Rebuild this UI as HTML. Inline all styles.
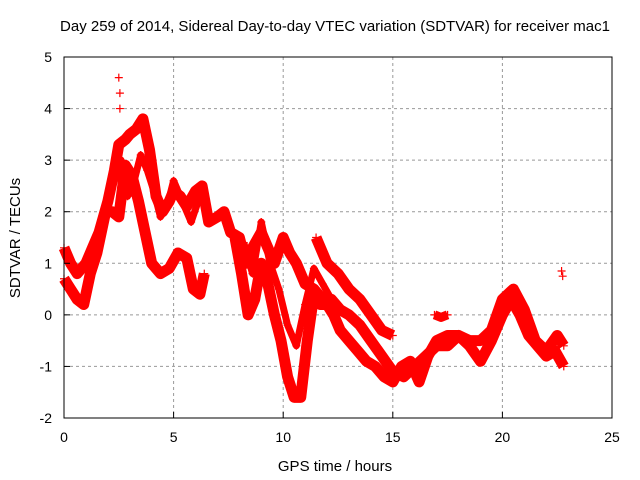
<!DOCTYPE html>
<html><head><meta charset="utf-8"><style>
body{margin:0;background:#fff}
svg{display:block;font-family:"Liberation Sans",Arial,sans-serif}
</style></head><body>
<svg id="chart" width="640" height="480" viewBox="0 0 640 480">
<text x="335" y="31" font-size="15" text-anchor="middle">Day 259 of 2014, Sidereal Day-to-day VTEC variation (SDTVAR) for receiver mac1</text>
<text x="335" y="471" font-size="15" text-anchor="middle">GPS time / hours</text>
<text transform="translate(20,238) rotate(-90)" font-size="15" text-anchor="middle">SDTVAR / TECUs</text>
<g id="grid"></g>
<g id="marks"></g>
<rect x="64" y="57" width="548" height="361" fill="none" stroke="#000" stroke-width="1"/>
<g id="ticks"></g>
</svg>
<script>
const xTicks=[0,5,10,15,20,25];
const yTicks=[-2,-1,0,1,2,3,4,5];
const tA=[0,0.3,0.6,1.0,1.3,1.6,2.0,2.3,2.5,2.8,3.0,3.3,3.6,3.9,4.2,4.5,4.8,5.0,5.3,5.6,6.0,6.3,6.6,7.0,7.3,7.6,8.0,8.3,8.6,9.0,9.3,9.6,10.0,10.3,10.6,11.0,11.4,11.8,12.2,12.6,13.0,13.5,14.0,14.5,15.0,15.5,16.0,16.5,17.0,17.5,18.0,18.5,19.0,19.5,20.0,20.5,21.0,21.5,22.0,22.5,22.8];
const vA=[1.3,1.0,0.8,1.0,1.3,1.6,2.2,2.8,3.3,3.4,3.5,3.6,3.8,3.2,2.3,2.0,2.2,2.4,2.3,2.1,2.4,2.5,1.8,1.9,2.0,1.6,1.5,1.0,1.3,1.6,1.3,1.0,1.5,1.2,1.0,0.6,0.5,0.3,0.3,0.1,0.0,-0.2,-0.5,-0.8,-1.1,-1.2,-1.0,-0.8,-0.6,-0.6,-0.4,-0.5,-0.5,-0.3,0.3,0.5,0.1,-0.5,-0.7,-0.4,-0.6];
const tB=[0,0.3,0.6,0.9,1.2,1.5,1.9,2.2,2.5,2.8,3.1,3.4,3.7,4.0,4.4,4.8,5.2,5.6,5.9,6.2,6.4];
const vB=[0.7,0.5,0.3,0.2,0.8,1.2,2.0,2.0,1.9,2.9,2.7,2.2,1.6,1.0,0.8,0.9,1.2,1.1,0.5,0.4,0.8];
const tC=[7.8,8.1,8.4,8.7,9.0,9.3,9.6,9.9,10.2,10.5,10.8,11.1,11.4,11.7,12.0,12.3,12.6,13.0,13.4,13.8,14.2,14.6,15.0,15.4,15.8,16.2,16.6,17.0,17.5,18.0,18.5,19.0,19.5,20.0,20.4,20.8,21.2,21.6,22.0,22.4,22.8];
const vC=[1.5,0.8,0.0,0.3,1.0,0.6,0.0,-0.5,-1.2,-1.6,-1.6,-0.5,0.4,0.2,0.2,0.0,-0.3,-0.5,-0.7,-0.9,-1.0,-1.2,-1.3,-1.0,-0.9,-1.3,-0.8,-0.5,-0.4,-0.4,-0.6,-0.9,-0.5,0.0,0.3,0.0,-0.4,-0.6,-0.8,-0.7,-1.0];
const tD=[11.5,12.0,12.5,13.0,13.5,14.0,14.5,15.0];
const vD=[1.5,1.0,0.8,0.5,0.3,0.0,-0.3,-0.4];
const tF=[2.3,2.6,2.9,3.2,3.5,3.8,4.1,4.4,4.7,5.0,5.4,5.8,6.2];
const vF=[2.6,3.0,2.3,2.6,3.1,2.8,2.4,1.9,2.1,2.6,2.2,1.8,2.3];
const tG=[8.2,8.6,9.0,9.4,9.8,10.2,10.6,11.0,11.4,11.8,12.2];
const vG=[1.4,0.8,1.8,1.0,0.5,-0.2,-0.6,0.2,0.9,0.6,0.3];
const tE=[16.9,17.2,17.5];
const vE=[0.0,-0.05,0.0];
const tP=[2.5,2.55,2.55,22.7,22.75];
const vP=[4.6,4.3,4.0,0.85,0.75];
const ns="http://www.w3.org/2000/svg";
const X=t=>64+t*(548/25);
const Y=v=>57+(5-v)*(361/7);
const grid=document.getElementById('grid'),ticks=document.getElementById('ticks'),marks=document.getElementById('marks');
function mk(tag,attrs,parent){const e=document.createElementNS(ns,tag);for(const k in attrs)e.setAttribute(k,attrs[k]);parent.appendChild(e);return e;}
xTicks.forEach(t=>{
 if(t>0&&t<25){const g=mk('line',{x1:X(t),x2:X(t),y1:57,y2:418,stroke:'#999','stroke-dasharray':'3,3'},grid);
 
 }
 const tk=mk('line',{x1:X(t),x2:X(t),y1:418,y2:412,stroke:'#000'},ticks);
 
 
 const l=mk('text',{x:X(t),y:442,'font-size':14,'text-anchor':'middle'},ticks);l.textContent=t;
 
 
});
yTicks.forEach(v=>{
 if(v>-2&&v<5){const g=mk('line',{x1:64,x2:612,y1:Y(v),y2:Y(v),stroke:'#999','stroke-dasharray':'3,3'},grid);
 
 }
 const tk=mk('line',{x1:64,x2:70,y1:Y(v),y2:Y(v),stroke:'#000'},ticks);
 
 
 const l=mk('text',{x:52,y:Y(v)+5,'font-size':14,'text-anchor':'end'},ticks);l.textContent=v;
 
 
});
function series(ts,vs,name,w){
 if(w){const p=mk('polyline',{points:ts.map((t,i)=>X(t)+','+Y(vs[i])).join(' '),fill:'none',stroke:'#f00','stroke-width':w,'stroke-linejoin':'round'},marks);
 
 }
 ts.forEach((t,i)=>{const x=X(t),y=Y(vs[i]);
  const m=mk('path',{d:`M${x-4},${y}H${x+4}M${x},${y-4}V${y+4}`,stroke:'#f00','stroke-width':1.2},marks);
  
  });
}
series(tA,vA,'track-a',11);
series(tB,vB,'track-b',11);
series(tC,vC,'track-c',11);
series(tD,vD,'track-d',11);
series(tF,vF,'track-f',7);
series(tG,vG,'track-g',7);
series(tE,vE,'track-e',9);
series(tP,vP,'outlier',0);
</script>
</body></html>
